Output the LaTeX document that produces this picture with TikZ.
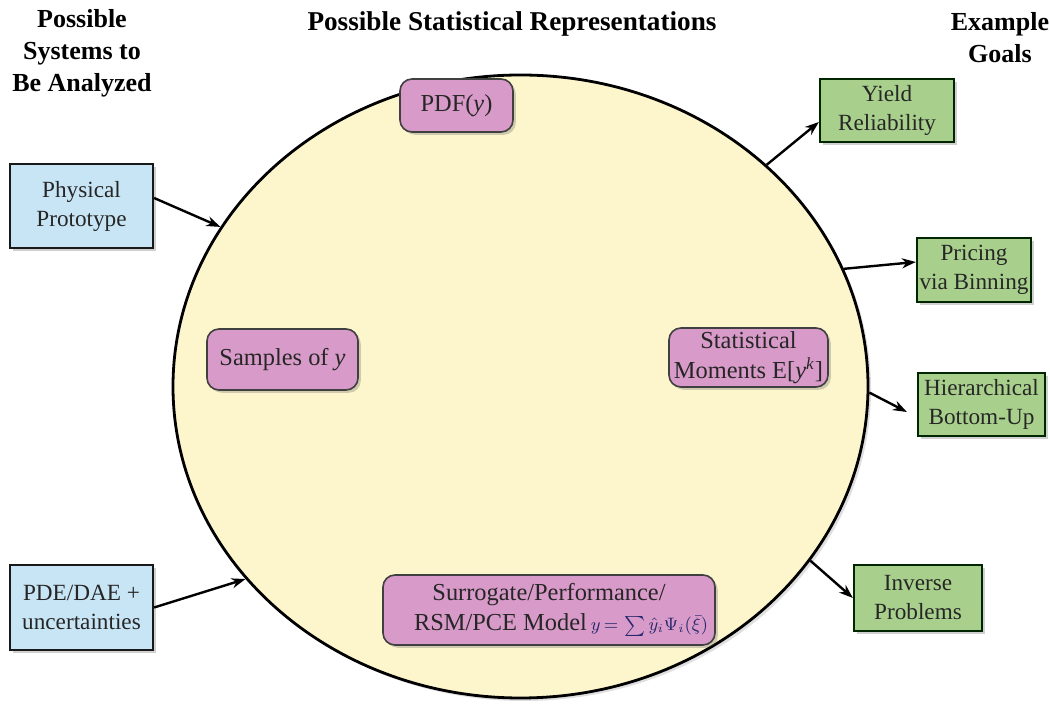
\documentclass[tikz,border=0pt]{standalone}
\usepackage{fontspec}
\setmainfont{Liberation Serif}
\usetikzlibrary{shapes.geometric,arrows.meta,shadows}
\definecolor{circfill}{RGB}{253,246,204}
\definecolor{pinkfill}{RGB}{216,154,200}
\definecolor{bluefill}{RGB}{200,229,246}
\definecolor{greenfill}{RGB}{168,208,140}
\definecolor{formula}{RGB}{40,40,110}
\begin{document}
\begin{tikzpicture}[x=0.5pt,y=-0.5pt,
  boxtext/.style={font=\fontsize{11.6}{14.5}\selectfont, align=center, text=black!85, inner sep=0pt},
  header/.style={font=\fontsize{13}{16}\selectfont\bfseries, align=center, text=black, inner sep=0pt},
  shad/.style={drop shadow={shadow xshift=1.4pt, shadow yshift=-1.4pt, opacity=0.3, fill=black!60}},
  sysbox/.style={boxtext, draw=black!90, line width=1.1pt, fill=bluefill, shad},
  goalbox/.style={boxtext, draw=black!85!green, line width=1.1pt, fill=greenfill, shad},
  repbox/.style={boxtext, font=\fontsize{12.2}{15}\selectfont, draw=black!75, line width=0.8pt, fill=pinkfill, rounded corners=6pt, shad},
  arr/.style={-{Stealth[length=7pt,width=5pt]}, line width=1.2pt, black}
]
\useasboundingbox (0,0) rectangle (1050,704);
\fill[white] (0,0) rectangle (1050,704);

% headers
\node[header] (h1) at (82,53) {Possible\\Systems to\\Be Analyzed};
\node[header, font=\fontsize{13.6}{16}\selectfont\bfseries] (h2) at (512,24) {Possible Statistical Representations};
\node[header] (h3) at (1000,38) {Example\\Goals};

% big circle
\node[ellipse, draw=black, line width=1.4pt, fill=circfill, minimum width=347.5pt, minimum height=311.5pt, inner sep=0pt,
  drop shadow={shadow xshift=1.5pt, shadow yshift=-1.5pt, opacity=0.25, fill=black!50}] (C) at (520.5,386.5) {};

% representations
\node[repbox, minimum width=56.5pt, minimum height=26.5pt] (pdf) at (456.5,105.5) {PDF(\textit{y})};
\node[repbox, minimum width=75.5pt, minimum height=30.5pt] (samp) at (282.5,359.5) {Samples of \textit{y}};
\node[repbox, minimum width=79.5pt, minimum height=29.5pt] (mom) at (748.5,357.5) {Statistical\\Moments E[\textit{y}\textsuperscript{\textit{k}}]};
\node[repbox, minimum width=166pt, minimum height=35pt] (sur) at (549,610)
  {Surrogate/Performance/\\\hspace*{12pt}RSM/PCE Model\,{\color{formula}$\scriptstyle y\,{=}\,\sum\hat{y}_i\Psi_i(\bar{\xi})$}};

% systems
\node[sysbox, minimum width=71.5pt, minimum height=42pt] (phys) at (81.5,206) {Physical\\Prototype};
\node[sysbox, minimum width=71.5pt, minimum height=42.5pt] (pde) at (81.5,607.5) {PDE/DAE +\\uncertainties};

% goals
\node[goalbox, minimum width=67pt, minimum height=31.5pt] (yield) at (887,110.5) {Yield\\Reliability};
\node[goalbox, minimum width=57pt, minimum height=32pt] (price) at (974,270) {Pricing\\via Binning};
\node[goalbox, minimum width=63.5pt, minimum height=31.5pt] (hier) at (981.5,404.5) {Hierarchical\\Bottom-Up};
\node[goalbox, minimum width=64pt, minimum height=33pt] (inv) at (918,598) {Inverse\\Problems};

% connectors
\draw[arr] (phys.east |- 0,198) -- (C.152);
\draw[arr] (pde.east) -- (C.215);
\draw[arr] (C.42) -- (yield.west |- 0,122);
\draw[arr] (C.20) -- (price.west |- 0,262);
\draw[arr] (C.-1.5) -- ([xshift=-5pt]hier.west |- 0,412);
\draw[arr] (C.-31) -- (inv.west);
\end{tikzpicture}
\end{document}
